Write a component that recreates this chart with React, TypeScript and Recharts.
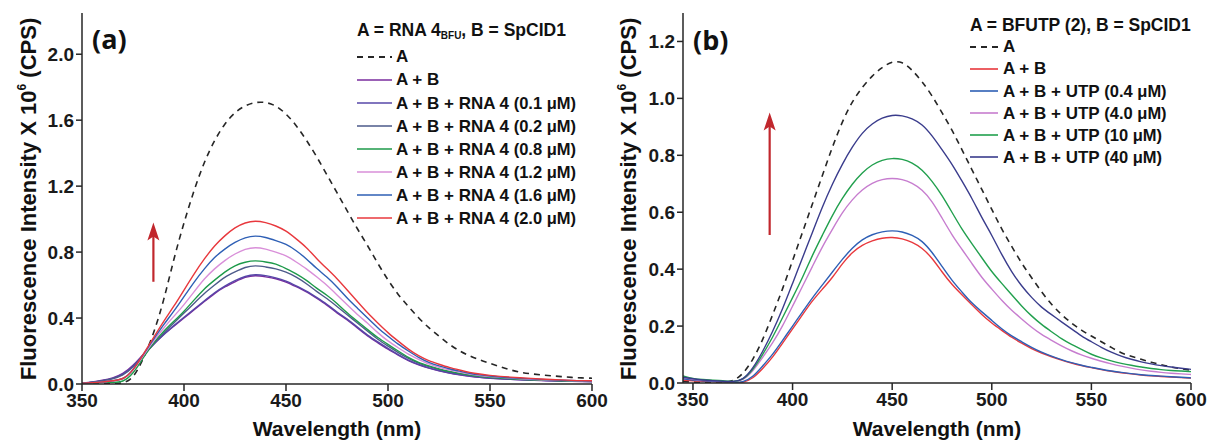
import { LineChart, Line, XAxis, YAxis, ReferenceLine } from "recharts";

const FONT = '"Liberation Sans", Arial, Helvetica, sans-serif';
const INK = "#262626";
const ARROW = "#c1272d";

// wavelength grid (nm)
const waveA = [350, 355, 360, 365, 370, 375, 380, 385, 390, 395, 400, 405, 410, 415, 420, 425, 430, 435, 440, 445, 450, 455, 460, 465, 470, 475, 480, 485, 490, 495, 500, 505, 510, 515, 520, 525, 530, 535, 540, 545, 550, 555, 560, 565, 570, 575, 580, 585, 590, 595, 600];
const waveB = [345, 350, 355, 360, 365, 370, 375, 380, 385, 390, 395, 400, 405, 410, 415, 420, 425, 430, 435, 440, 445, 450, 455, 460, 465, 470, 475, 480, 485, 490, 495, 500, 505, 510, 515, 520, 525, 530, 535, 540, 545, 550, 555, 560, 565, 570, 575, 580, 585, 590, 595, 600];

// panel (a): intensity x 10^6 CPS
const aOnly = [0, 0, 0, 0.002, 0.005, 0.03, 0.15, 0.3, 0.5, 0.76, 0.98, 1.18, 1.35, 1.48, 1.58, 1.65, 1.69, 1.71, 1.71, 1.69, 1.64, 1.57, 1.48, 1.38, 1.27, 1.16, 1.05, 0.94, 0.84, 0.73, 0.63, 0.54, 0.47, 0.4, 0.34, 0.29, 0.24, 0.2, 0.17, 0.145, 0.125, 0.105, 0.085, 0.07, 0.062, 0.055, 0.05, 0.045, 0.04, 0.037, 0.035];
const aAB = [0.005, 0.012, 0.022, 0.035, 0.06, 0.11, 0.18, 0.24, 0.3, 0.35, 0.4, 0.45, 0.5, 0.55, 0.59, 0.62, 0.65, 0.66, 0.65, 0.64, 0.62, 0.59, 0.56, 0.52, 0.48, 0.43, 0.39, 0.34, 0.29, 0.25, 0.21, 0.175, 0.14, 0.115, 0.095, 0.08, 0.066, 0.055, 0.047, 0.04, 0.035, 0.031, 0.028, 0.025, 0.023, 0.021, 0.019, 0.017, 0.016, 0.015, 0.014];
const aR01 = [0.005, 0.011, 0.02, 0.033, 0.055, 0.105, 0.175, 0.24, 0.3, 0.355, 0.405, 0.455, 0.505, 0.555, 0.595, 0.628, 0.655, 0.665, 0.658, 0.645, 0.625, 0.595, 0.565, 0.525, 0.485, 0.435, 0.395, 0.345, 0.295, 0.255, 0.215, 0.178, 0.143, 0.118, 0.097, 0.082, 0.068, 0.057, 0.048, 0.041, 0.036, 0.032, 0.029, 0.026, 0.024, 0.022, 0.02, 0.018, 0.017, 0.016, 0.015];
const aR02 = [0.005, 0.01, 0.02, 0.03, 0.05, 0.1, 0.17, 0.24, 0.31, 0.37, 0.43, 0.49, 0.55, 0.6, 0.65, 0.68, 0.71, 0.72, 0.71, 0.7, 0.68, 0.65, 0.61, 0.56, 0.52, 0.47, 0.42, 0.37, 0.32, 0.27, 0.23, 0.19, 0.155, 0.125, 0.105, 0.088, 0.074, 0.062, 0.052, 0.045, 0.039, 0.035, 0.031, 0.028, 0.025, 0.023, 0.021, 0.019, 0.017, 0.016, 0.015];
const aR08 = [0.005, 0.008, 0.01, 0.01, 0.01, 0.06, 0.16, 0.25, 0.32, 0.38, 0.44, 0.51, 0.58, 0.63, 0.68, 0.72, 0.74, 0.75, 0.74, 0.73, 0.7, 0.67, 0.63, 0.58, 0.54, 0.49, 0.43, 0.38, 0.33, 0.28, 0.24, 0.2, 0.16, 0.13, 0.11, 0.09, 0.076, 0.064, 0.054, 0.046, 0.04, 0.036, 0.032, 0.029, 0.026, 0.024, 0.022, 0.02, 0.018, 0.017, 0.016];
const aR12 = [0.005, 0.008, 0.012, 0.02, 0.025, 0.08, 0.17, 0.26, 0.34, 0.41, 0.48, 0.56, 0.64, 0.7, 0.75, 0.79, 0.82, 0.83, 0.82, 0.8, 0.78, 0.74, 0.7, 0.65, 0.6, 0.54, 0.48, 0.42, 0.37, 0.31, 0.26, 0.22, 0.18, 0.15, 0.12, 0.1, 0.085, 0.072, 0.06, 0.051, 0.045, 0.04, 0.036, 0.032, 0.029, 0.026, 0.024, 0.022, 0.02, 0.018, 0.017];
const aR16 = [0.005, 0.008, 0.012, 0.02, 0.025, 0.08, 0.18, 0.27, 0.36, 0.44, 0.53, 0.62, 0.7, 0.77, 0.82, 0.86, 0.89, 0.9, 0.89, 0.87, 0.85, 0.81, 0.76, 0.7, 0.65, 0.59, 0.52, 0.46, 0.4, 0.34, 0.29, 0.24, 0.2, 0.16, 0.13, 0.11, 0.092, 0.078, 0.065, 0.055, 0.048, 0.042, 0.038, 0.034, 0.031, 0.028, 0.025, 0.023, 0.021, 0.019, 0.018];
const aR20 = [0.005, 0.008, 0.012, 0.02, 0.025, 0.08, 0.18, 0.28, 0.38, 0.47, 0.57, 0.67, 0.76, 0.84, 0.9, 0.95, 0.98, 0.99, 0.98, 0.96, 0.93, 0.88, 0.83, 0.76, 0.7, 0.64, 0.57, 0.5, 0.43, 0.37, 0.31, 0.26, 0.21, 0.17, 0.14, 0.12, 0.1, 0.085, 0.07, 0.06, 0.052, 0.046, 0.042, 0.038, 0.034, 0.03, 0.027, 0.025, 0.022, 0.02, 0.02];

// panel (b)
const bOnly = [0.005, 0.003, 0.002, 0.002, 0.002, 0.005, 0.03, 0.08, 0.15, 0.24, 0.33, 0.43, 0.53, 0.63, 0.73, 0.83, 0.92, 0.99, 1.04, 1.08, 1.11, 1.13, 1.13, 1.1, 1.06, 1.01, 0.95, 0.89, 0.82, 0.75, 0.68, 0.61, 0.54, 0.48, 0.42, 0.37, 0.32, 0.275, 0.24, 0.21, 0.185, 0.165, 0.145, 0.125, 0.105, 0.094, 0.083, 0.073, 0.064, 0.056, 0.05, 0.045];
const bAB = [0.01, 0.008, 0.006, 0.005, 0.004, 0.002, 0, 0.015, 0.05, 0.09, 0.14, 0.19, 0.24, 0.29, 0.33, 0.37, 0.42, 0.46, 0.485, 0.5, 0.51, 0.512, 0.508, 0.495, 0.475, 0.44, 0.39, 0.345, 0.31, 0.275, 0.24, 0.21, 0.185, 0.16, 0.14, 0.12, 0.105, 0.092, 0.08, 0.07, 0.061, 0.054, 0.047, 0.041, 0.036, 0.032, 0.028, 0.025, 0.023, 0.021, 0.019, 0.017];
const bU04 = [0.015, 0.01, 0.008, 0.006, 0.004, 0.002, 0.002, 0.02, 0.06, 0.1, 0.15, 0.2, 0.25, 0.3, 0.345, 0.39, 0.435, 0.475, 0.505, 0.522, 0.532, 0.536, 0.532, 0.52, 0.5, 0.46, 0.41, 0.36, 0.32, 0.28, 0.25, 0.22, 0.19, 0.165, 0.145, 0.125, 0.108, 0.094, 0.082, 0.071, 0.062, 0.055, 0.048, 0.042, 0.037, 0.033, 0.029, 0.026, 0.024, 0.022, 0.02, 0.018];
const bU4 = [0.02, 0.012, 0.01, 0.008, 0.006, 0.003, 0.008, 0.04, 0.09, 0.14, 0.2, 0.27, 0.34, 0.41, 0.48, 0.54, 0.6, 0.645, 0.68, 0.703, 0.716, 0.72, 0.716, 0.703, 0.68, 0.64, 0.58, 0.52, 0.47, 0.42, 0.37, 0.33, 0.29, 0.255, 0.225, 0.195, 0.17, 0.15, 0.13, 0.113, 0.098, 0.087, 0.076, 0.067, 0.059, 0.052, 0.046, 0.041, 0.037, 0.034, 0.032, 0.03];
const bU10 = [0.025, 0.015, 0.012, 0.01, 0.008, 0.004, 0.01, 0.045, 0.1, 0.16, 0.23, 0.3, 0.37, 0.45, 0.52, 0.59, 0.65, 0.7, 0.74, 0.768, 0.784, 0.79, 0.787, 0.775, 0.75, 0.71, 0.66, 0.6, 0.54, 0.49, 0.44, 0.39, 0.35, 0.31, 0.27, 0.235, 0.205, 0.18, 0.155, 0.135, 0.118, 0.1, 0.088, 0.077, 0.069, 0.062, 0.056, 0.051, 0.047, 0.044, 0.042, 0.04];
const bU40 = [0.02, 0.015, 0.01, 0.008, 0.006, 0.004, 0.01, 0.05, 0.11, 0.18, 0.26, 0.35, 0.44, 0.53, 0.62, 0.7, 0.77, 0.83, 0.88, 0.912, 0.932, 0.942, 0.94, 0.93, 0.91, 0.87, 0.82, 0.77, 0.71, 0.65, 0.58, 0.52, 0.45, 0.39, 0.34, 0.3, 0.265, 0.24, 0.215, 0.19, 0.165, 0.145, 0.125, 0.108, 0.094, 0.083, 0.074, 0.067, 0.061, 0.056, 0.052, 0.048];

const xTicks = [350, 400, 450, 500, 550, 600];
const yTicksA = [0, 0.4, 0.8, 1.2, 1.6, 2.0];
const yTicksB = [0, 0.2, 0.4, 0.6, 0.8, 1.0, 1.2];

type Series = { key: string; label: string; conc?: string; color: string; values: number[]; dashed?: boolean };

const seriesA: Series[] = [
  { key: "a", label: "A", color: INK, values: aOnly, dashed: true },
  { key: "ab", label: "A + B", color: "#7a2c9e", values: aAB },
  { key: "r01", label: "A + B + RNA 4", conc: "(0.1 μM)", color: "#5747a8", values: aR01 },
  { key: "r02", label: "A + B + RNA 4", conc: "(0.2 μM)", color: "#4d5a8a", values: aR02 },
  { key: "r08", label: "A + B + RNA 4", conc: "(0.8 μM)", color: "#1e9a4a", values: aR08 },
  { key: "r12", label: "A + B + RNA 4", conc: "(1.2 μM)", color: "#d98fd9", values: aR12 },
  { key: "r16", label: "A + B + RNA 4", conc: "(1.6 μM)", color: "#2e5fb5", values: aR16 },
  { key: "r20", label: "A + B + RNA 4", conc: "(2.0 μM)", color: "#e8383d", values: aR20 },
];

const seriesB: Series[] = [
  { key: "a", label: "A", color: INK, values: bOnly, dashed: true },
  { key: "ab", label: "A + B", color: "#e8383d", values: bAB },
  { key: "u04", label: "A + B + UTP", conc: "(0.4 μM)", color: "#2e5fb5", values: bU04 },
  { key: "u4", label: "A + B + UTP", conc: "(4.0 μM)", color: "#c77dcf", values: bU4 },
  { key: "u10", label: "A + B + UTP", conc: "(10 μM)", color: "#22a04e", values: bU10 },
  { key: "u40", label: "A + B + UTP", conc: "(40 μM)", color: "#3a3c8c", values: bU40 },
];

const axisLine = { stroke: INK, strokeWidth: 1.5 };
const tickFont = { fill: "#1a1a1a", fontSize: 19, fontWeight: 700, fontFamily: FONT };

function arrowShape(p: any) {
  const x = p.x1;
  const top = Math.min(p.y1, p.y2);
  const bot = Math.max(p.y1, p.y2);
  return (
    <g>
      <line x1={x} x2={x} y1={bot} y2={top + 12} stroke={ARROW} strokeWidth={2.2} />
      <polygon points={`${x},${top} ${x - 6},${top + 18} ${x},${top + 14} ${x + 6},${top + 18}`} fill={ARROW} />
    </g>
  );
}

type PanelProps = {
  left: number;
  width: number;
  marginRight: number;
  yAxisWidth: number;
  xAxisHeight: number;
  waves: number[];
  series: Series[];
  xDomain: [number, number];
  yDomain: [number, number];
  yTicks: number[];
  arrow: { x: number; y0: number; y1: number };
};

function Panel(p: PanelProps) {
  const rows = p.waves.map((w, i) => {
    const r: Record<string, number> = { w };
    p.series.forEach((s) => (r[s.key] = s.values[i]));
    return r;
  });
  return (
    <div style={{ position: "absolute", left: p.left, top: 0, width: p.width, height: 440 }}>
      <LineChart width={p.width} height={440} data={rows} margin={{ top: 13, right: p.marginRight, bottom: 0, left: 0 }}>
        <XAxis
          dataKey="w"
          type="number"
          domain={p.xDomain}
          ticks={xTicks}
          allowDataOverflow
          height={p.xAxisHeight}
          axisLine={axisLine}
          tickLine={axisLine}
          tickSize={7}
          tickMargin={3}
          tick={tickFont}
        />
        <XAxis xAxisId="top" orientation="top" dataKey="w" type="number" domain={p.xDomain} allowDataOverflow tick={false} tickLine={false} height={0} axisLine={axisLine} />
        <YAxis
          type="number"
          domain={p.yDomain}
          ticks={p.yTicks}
          allowDataOverflow
          width={p.yAxisWidth}
          axisLine={axisLine}
          tickLine={axisLine}
          tickSize={6}
          tickMargin={2}
          tick={tickFont}
          tickFormatter={(v: number) => v.toFixed(1)}
        />
        <YAxis yAxisId="right" orientation="right" type="number" domain={p.yDomain} tick={false} tickLine={false} width={0} axisLine={axisLine} />
        {p.series.map((s) => (
          <Line
            key={s.key}
            dataKey={s.key}
            type="basis"
            stroke={s.color}
            strokeWidth={s.dashed ? 1.6 : 1.4}
            strokeDasharray={s.dashed ? "6 5" : undefined}
            dot={false}
            isAnimationActive={false}
          />
        ))}
        <ReferenceLine
          segment={[
            { x: p.arrow.x, y: p.arrow.y0 },
            { x: p.arrow.x, y: p.arrow.y1 },
          ]}
          shape={arrowShape}
        />
      </LineChart>
    </div>
  );
}

function LegendBlock({ x, headerY, firstRowY, rowGap, sampleW, textX, header, series }: {
  x: number; headerY: number; firstRowY: number; rowGap: number; sampleW: number; textX: number; header: React.ReactNode; series: Series[];
}) {
  return (
    <>
      <div style={{ position: "absolute", left: x, top: headerY - 11, height: 22, lineHeight: "22px", fontSize: 17.5, fontWeight: 700, whiteSpace: "nowrap" }}>
        {header}
      </div>
      {series.map((s, i) => {
        const cy = firstRowY + i * rowGap;
        return (
          <div key={s.key}>
            <svg style={{ position: "absolute", left: x, top: cy - 5 }} width={sampleW} height={10}>
              <line x1={0} x2={sampleW} y1={5} y2={5} stroke={s.color} strokeWidth={s.dashed ? 1.8 : 1.6} strokeDasharray={s.dashed ? "6 5" : undefined} />
            </svg>
            <div style={{ position: "absolute", left: textX, top: cy - 11, height: 22, lineHeight: "22px", fontSize: 17, fontWeight: 700, whiteSpace: "nowrap" }}>
              {s.label}
              {s.conc ? <span style={{ fontSize: 16.5 }}> {s.conc}</span> : null}
            </div>
          </div>
        );
      })}
    </>
  );
}

const yTitle = (
  <>
    Fluorescence Intensity X 10<span style={{ fontSize: 12, position: "relative", top: -10 }}>6</span> (CPS)
  </>
);

export default function App() {
  return (
    <div style={{ position: "absolute", left: 0, top: 0, width: 1207, height: 440, background: "#fff", fontFamily: FONT, color: "#111", overflow: "hidden" }}>
      <Panel
        left={0}
        width={620}
        marginRight={28}
        yAxisWidth={82}
        xAxisHeight={56}
        waves={waveA}
        series={seriesA}
        xDomain={[350, 600]}
        yDomain={[0, 2.25]}
        yTicks={yTicksA}
        arrow={{ x: 385, y0: 0.62, y1: 0.98 }}
      />
      <Panel
        left={600}
        width={607}
        marginRight={16}
        yAxisWidth={83}
        xAxisHeight={57}
        waves={waveB}
        series={seriesB}
        xDomain={[345, 600]}
        yDomain={[0, 1.3]}
        yTicks={yTicksB}
        arrow={{ x: 388.5, y0: 0.52, y1: 0.95 }}
      />

      {/* axis titles */}
      <div style={{ position: "absolute", left: 29, top: 199, transform: "translate(-50%, -50%) rotate(-90deg)", whiteSpace: "nowrap", fontSize: 22, fontWeight: 700 }}>{yTitle}</div>
      <div style={{ position: "absolute", left: 629, top: 199, transform: "translate(-50%, -50%) rotate(-90deg)", whiteSpace: "nowrap", fontSize: 22, fontWeight: 700 }}>{yTitle}</div>
      <div style={{ position: "absolute", left: 337, top: 429, transform: "translate(-50%, -50%)", whiteSpace: "nowrap", fontSize: 21, fontWeight: 700 }}>Wavelength (nm)</div>
      <div style={{ position: "absolute", left: 937, top: 429, transform: "translate(-50%, -50%)", whiteSpace: "nowrap", fontSize: 21, fontWeight: 700 }}>Wavelength (nm)</div>

      {/* panel tags */}
      <div style={{ position: "absolute", left: 92, top: 24, fontSize: 27, fontWeight: 700, fontFamily: '"Open Sans", sans-serif', lineHeight: "30px" }}>(a)</div>
      <div style={{ position: "absolute", left: 693, top: 25, fontSize: 27, fontWeight: 700, fontFamily: '"Open Sans", sans-serif', lineHeight: "30px" }}>(b)</div>

      <LegendBlock
        x={357}
        headerY={30}
        firstRowY={57}
        rowGap={23}
        sampleW={35}
        textX={396}
        series={seriesA}
        header={
          <>
            A = RNA 4<sub style={{ fontSize: 10, verticalAlign: "-3px" }}>BFU</sub>, B = SpCID1
          </>
        }
      />
      <LegendBlock
        x={970}
        headerY={25}
        firstRowY={47}
        rowGap={22}
        sampleW={28}
        textX={1003}
        series={seriesB}
        header={<>A = BFUTP (2), B = SpCID1</>}
      />
    </div>
  );
}
